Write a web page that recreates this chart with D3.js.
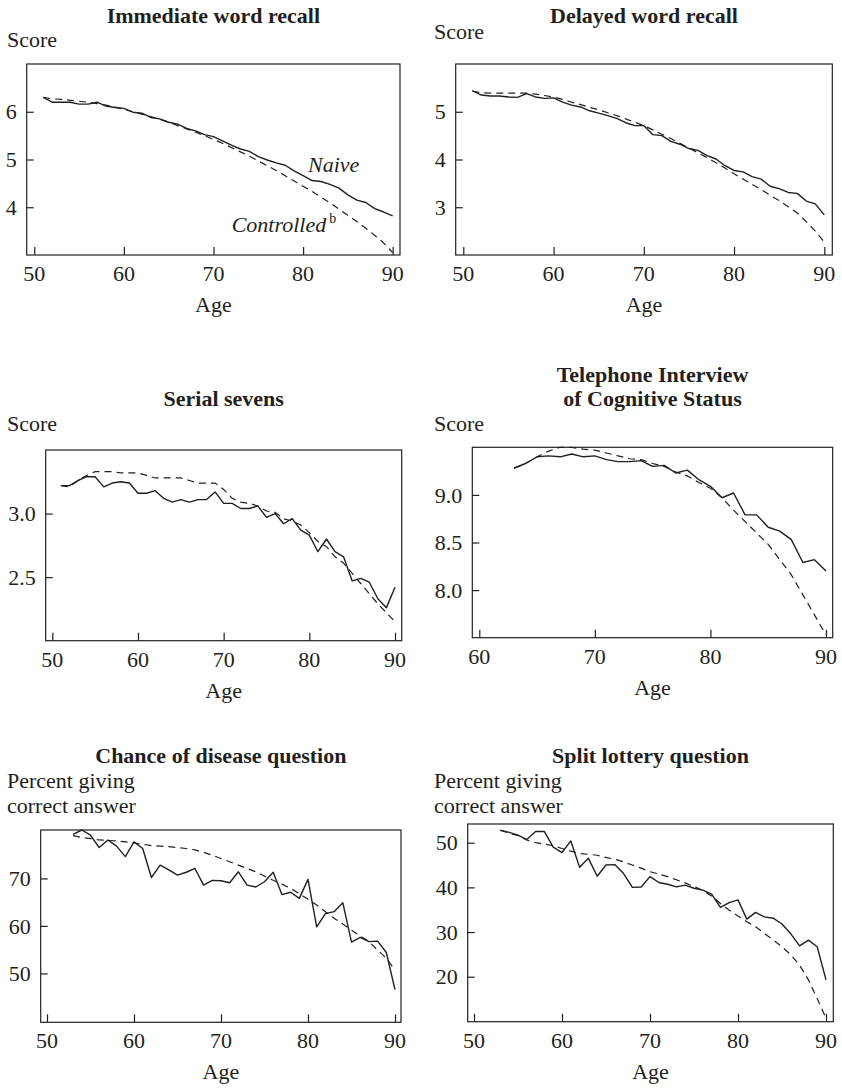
<!DOCTYPE html>
<html>
<head>
<meta charset="utf-8">
<script src="https://cdn.jsdelivr.net/npm/d3@7"></script>
<style>
  html, body { margin: 0; padding: 0; background: #fff; }
  svg { display: block; }
  text { font-family: "Liberation Serif", "Times New Roman", serif; fill: #231f20; }
</style>
</head>
<body>
<svg id="chart" width="842" height="1088"></svg>
<script>
// ---------- DATA ----------
const ages51 = [51,52,53,54,55,56,57,58,59,60,61,62,63,64,65,66,67,68,69,70,71,72,73,74,75,76,77,78,79,80,81,82,83,84,85,86,87,88,89,90];
const ages53 = [53,54,55,56,57,58,59,60,61,62,63,64,65,66,67,68,69,70,71,72,73,74,75,76,77,78,79,80,81,82,83,84,85,86,87,88,89,90];
const ages63 = [63,64,65,66,67,68,69,70,71,72,73,74,75,76,77,78,79,80,81,82,83,84,85,86,87,88,89,90];

// Immediate word recall
const immNaive = [6.30,6.20,6.20,6.20,6.16,6.16,6.20,6.12,6.09,6.07,5.99,5.97,5.88,5.85,5.78,5.74,5.65,5.60,5.52,5.48,5.39,5.30,5.22,5.17,5.06,4.99,4.93,4.88,4.76,4.66,4.56,4.54,4.48,4.40,4.26,4.15,4.10,3.97,3.90,3.82];
const immControlled = [6.30,6.27,6.26,6.24,6.22,6.20,6.17,6.14,6.10,6.05,6.00,5.95,5.90,5.84,5.78,5.71,5.64,5.57,5.50,5.42,5.34,5.25,5.16,5.07,4.97,4.87,4.77,4.66,4.55,4.44,4.33,4.21,4.09,3.96,3.83,3.70,3.56,3.41,3.25,3.05];

// Delayed word recall
const delNaive = [5.44,5.35,5.33,5.33,5.31,5.30,5.38,5.31,5.28,5.29,5.20,5.14,5.10,5.02,4.97,4.92,4.86,4.77,4.71,4.71,4.52,4.50,4.38,4.32,4.23,4.19,4.08,4.01,3.87,3.77,3.74,3.64,3.59,3.44,3.39,3.31,3.29,3.13,3.07,2.84];
const delControlled = [5.43,5.40,5.39,5.39,5.39,5.39,5.39,5.37,5.34,5.31,5.26,5.20,5.15,5.09,5.04,4.98,4.92,4.85,4.78,4.71,4.62,4.53,4.44,4.34,4.24,4.14,4.04,3.93,3.82,3.70,3.59,3.48,3.37,3.25,3.14,3.01,2.88,2.70,2.50,2.27];

// Serial sevens
const ssNaive = [3.22,3.22,3.26,3.29,3.29,3.21,3.24,3.25,3.24,3.16,3.16,3.18,3.12,3.09,3.11,3.09,3.11,3.11,3.17,3.08,3.08,3.04,3.04,3.06,2.97,3.00,2.92,2.96,2.87,2.83,2.70,2.80,2.70,2.66,2.47,2.49,2.46,2.33,2.26,2.42];
const ssControlled = [3.22,3.21,3.26,3.30,3.33,3.33,3.33,3.32,3.32,3.32,3.30,3.28,3.28,3.28,3.28,3.26,3.24,3.24,3.24,3.19,3.12,3.09,3.08,3.06,3.02,3.01,2.96,2.94,2.91,2.85,2.78,2.74,2.66,2.61,2.53,2.45,2.37,2.29,2.22,2.15];

// Telephone Interview of Cognitive Status
const ticsNaive = [9.28,9.33,9.40,9.41,9.40,9.43,9.40,9.41,9.37,9.35,9.35,9.36,9.30,9.31,9.23,9.26,9.16,9.09,8.97,9.02,8.79,8.79,8.66,8.62,8.53,8.29,8.32,8.20];
const ticsControlled = [9.28,9.33,9.40,9.46,9.50,9.50,9.48,9.47,9.44,9.41,9.38,9.37,9.33,9.30,9.24,9.20,9.13,9.07,8.97,8.84,8.72,8.60,8.48,8.32,8.16,7.95,7.74,7.53];

// Chance of disease question
const disNaive = [79.3,80.2,79.1,76.5,78.1,76.8,74.6,77.7,76.3,70.2,72.8,71.8,70.7,71.3,72.1,68.6,69.6,69.5,69.1,71.4,68.6,68.2,69.3,71.3,66.6,67.1,65.8,69.8,59.8,62.6,63.0,64.9,56.6,57.6,56.7,56.8,54.4,46.6];
const disControlled = [79.0,78.6,78.4,78.1,78.0,77.9,77.7,77.5,77.2,76.9,76.8,76.7,76.5,76.3,76.0,75.5,74.9,74.2,73.5,72.8,72.1,71.4,70.5,69.6,68.8,67.9,66.8,65.6,64.4,63.0,61.6,60.4,59.1,57.9,56.7,54.9,53.2,50.7];

// Split lottery question
const lotNaive = [52.8,52.3,51.7,50.7,52.5,52.5,49.0,47.8,50.4,44.5,46.5,42.5,45.0,45.1,43.1,40.0,40.1,42.4,41.1,40.7,40.1,40.5,39.8,39.4,38.5,35.5,36.6,37.2,32.9,34.4,33.4,33.1,31.8,29.6,26.9,28.2,26.7,19.3];
const lotControlled = [52.8,52.1,51.6,50.6,50.0,49.7,49.3,48.7,48.1,47.6,47.4,47.2,46.7,46.3,45.7,45.0,44.3,43.5,43.0,42.4,41.7,41.0,40.2,39.3,38.1,36.4,34.9,33.6,32.3,31.2,29.7,28.2,26.7,24.9,22.6,19.3,15.1,10.7];

// Tick labels
const xTicks50 = [50,60,70,80,90];
const xTicks60 = [60,70,80,90];
const yTicksImm = [4,5,6];
const yTicksDel = [3,4,5];
const yTicksSS = [2.5,3.0];
const yTicksTICS = [8.0,8.5,9.0];
const yTicksPct1 = [50,60,70];
const yTicksPct2 = [20,30,40,50];

const titles = [["Immediate word recall"],["Delayed word recall"],["Serial sevens"],["Telephone Interview","of Cognitive Status"],["Chance of disease question"],["Split lottery question"]];
const yLabels = [["Score"],["Score"],["Score"],["Score"],["Percent giving","correct answer"],["Percent giving","correct answer"]];
const xLabel = "Age";

// ---------- LAYOUT ----------
const panels = [
  {ages: ages51, naive: immNaive, ctrl: immControlled, xTicks: xTicks50, yTicks: yTicksImm, yFmt: d3.format("d"),
   xd: [50,90], xr: [34.3,392.7], yd: [3,7], box: [26.7,64,400,255], titleY: [23], yLabY: [47], yLabX: 7},
  {ages: ages51, naive: delNaive, ctrl: delControlled, xTicks: xTicks50, yTicks: yTicksDel, yFmt: d3.format("d"),
   xd: [50,90], xr: [463.3,824.3], yd: [2,6], box: [455.7,64,832.3,255], titleY: [23], yLabY: [39], yLabX: 434},
  {ages: ages51, naive: ssNaive, ctrl: ssControlled, xTicks: xTicks50, yTicks: yTicksSS, yFmt: d3.format(".1f"),
   xd: [50,90], xr: [52.3,395], yd: [2.0,3.5], box: [45.7,450,401.7,640.7], titleY: [406], yLabY: [431], yLabX: 7},
  {ages: ages63, naive: ticsNaive, ctrl: ticsControlled, xTicks: xTicks60, yTicks: yTicksTICS, yFmt: d3.format(".1f"),
   xd: [60,90], xr: [479.3,826], yd: [7.5,9.5], box: [472.3,447.3,832.7,637.7], titleY: [382,406], yLabY: [431], yLabX: 434},
  {ages: ages53, naive: disNaive, ctrl: disControlled, xTicks: xTicks50, yTicks: yTicksPct1, yFmt: d3.format("d"),
   xd: [50,90], xr: [47,395], yd: [39.7,80.2], box: [40.7,830,401,1022.3], titleY: [763], yLabY: [788,812.7], yLabX: 7},
  {ages: ages53, naive: lotNaive, ctrl: lotControlled, xTicks: xTicks50, yTicks: yTicksPct2, yFmt: d3.format("d"),
   xd: [50,90], xr: [474,826], yd: [9.93,54.19], box: [467.7,824,833.3,1021.7], titleY: [763], yLabY: [788,812.7], yLabX: 434}
];

const svg = d3.select("#chart");
const ink = "#231f20";
const FS = 22;

panels.forEach((p, i) => {
  const [bl, bt, br, bb] = p.box;
  const x = d3.scaleLinear().domain(p.xd).range(p.xr);
  const y = d3.scaleLinear().domain(p.yd).range([bb, bt]);
  const g = svg.append("g");
  const cx = (bl + br) / 2;

  // frame
  g.append("rect").attr("x", bl).attr("y", bt).attr("width", br - bl).attr("height", bb - bt)
    .attr("fill", "none").attr("stroke", ink).attr("stroke-width", 1.2);

  // x axis (ticks inward)
  const xAxis = d3.axisTop(x).tickValues(p.xTicks).tickSize(8).tickFormat("");
  const xa = g.append("g").attr("transform", `translate(0,${bb})`).call(xAxis);
  xa.select(".domain").remove();
  xa.selectAll("line").attr("stroke", ink).attr("stroke-width", 1.2);
  g.selectAll(".xt").data(p.xTicks).join("text")
    .attr("x", d => x(d)).attr("y", bb + 26).attr("text-anchor", "middle")
    .attr("font-size", FS).text(d => d);

  // y axis (ticks inward)
  const yAxis = d3.axisRight(y).tickValues(p.yTicks).tickSize(7).tickFormat("");
  const ya = g.append("g").attr("transform", `translate(${bl},0)`).call(yAxis);
  ya.select(".domain").remove();
  ya.selectAll("line").attr("stroke", ink).attr("stroke-width", 1.2);
  g.selectAll(".yt").data(p.yTicks).join("text")
    .attr("x", bl - 10).attr("y", d => y(d)).attr("dy", "0.35em").attr("text-anchor", "end")
    .attr("font-size", FS).text(d => p.yFmt(d));

  // lines
  const line = d3.line().x((d, k) => x(p.ages[k])).y(d => y(d));
  g.append("path").datum(p.ctrl).attr("d", line).attr("fill", "none")
    .attr("stroke", ink).attr("stroke-width", 1.2).attr("stroke-dasharray", "7,5");
  g.append("path").datum(p.naive).attr("d", line).attr("fill", "none")
    .attr("stroke", ink).attr("stroke-width", 1.4).attr("stroke-linejoin", "round");

  // title
  p.titleY.forEach((ty, k) => {
    g.append("text").attr("x", cx).attr("y", ty).attr("text-anchor", "middle")
      .attr("font-size", FS).attr("font-weight", "bold").text(titles[i][k]);
  });
  // y label
  p.yLabY.forEach((ly, k) => {
    g.append("text").attr("x", p.yLabX).attr("y", ly).attr("font-size", FS).text(yLabels[i][k]);
  });
  // x label
  g.append("text").attr("x", cx).attr("y", bb + 57).attr("text-anchor", "middle")
    .attr("font-size", FS).text(xLabel);

  if (i === 0) {
    g.append("text").attr("x", 308).attr("y", 171.7).attr("font-size", FS)
      .attr("font-style", "italic").text("Naive");
    const t = g.append("text").attr("x", 231.7).attr("y", 232.3).attr("font-size", FS);
    t.append("tspan").attr("font-style", "italic").text("Controlled");
    t.append("tspan").attr("font-size", 14).attr("dx", 3).attr("dy", -9).text("b");
  }
});
</script>
</body>
</html>
